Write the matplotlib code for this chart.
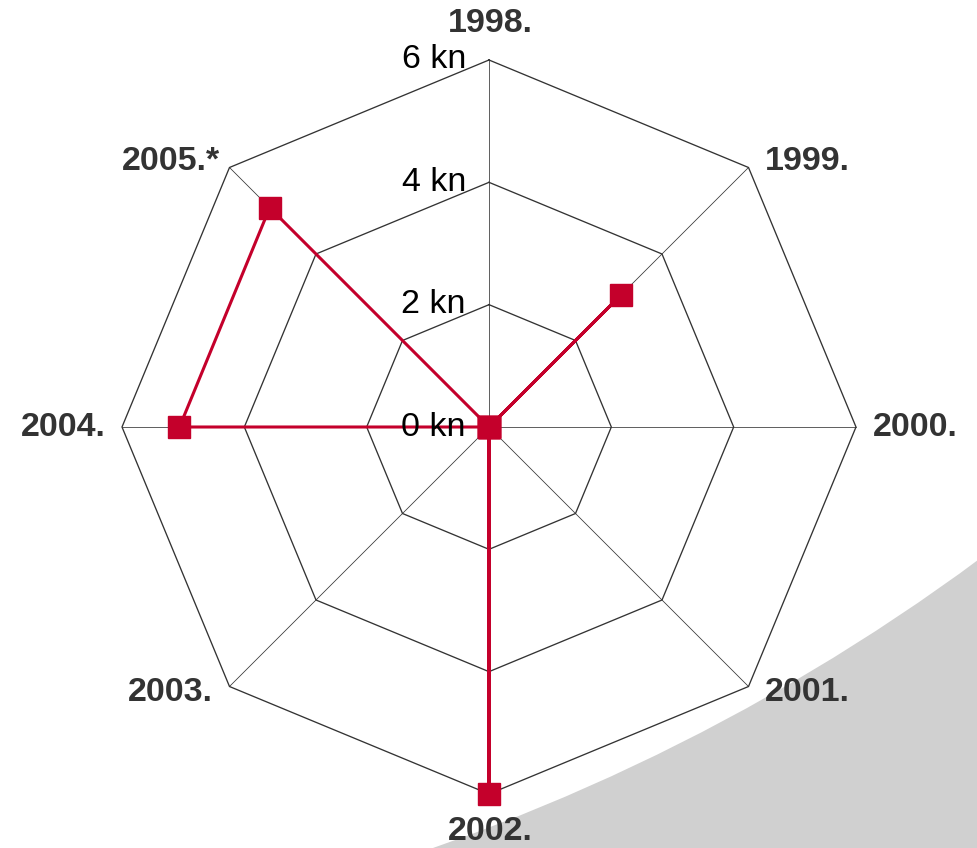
import numpy as np
import matplotlib
matplotlib.use("Agg")
import matplotlib.pyplot as plt
from matplotlib.patches import Ellipse

plt.rcParams['font.family'] = ['Liberation Sans', 'DejaVu Sans']

# data
years = ["1998.", "1999.", "2000.", "2001.", "2002.", "2003.", "2004.", "2005.*"]
values = [0, 3.06, 0, 0, 6, 0, 5.06, 5.07]
rings = [2, 4, 6]
tick_vals = [0, 2, 4, 6]
tick_labels = ["0 kn", "2 kn", "4 kn", "6 kn"]

RED = "#c4002b"
GRID = "#333333"

W, H = 978, 848
fig = plt.figure(figsize=(W / 100, H / 100), dpi=100)
fig.patch.set_facecolor("#d0d0d0")

# white background with the grey swoosh in the lower right
cx, cy, rad = -247.5, H + 1099.5, 2063
bg = Ellipse((cx / W, cy / H), 2 * rad / W, 2 * rad / H,
             transform=fig.transFigure, facecolor="white", edgecolor="none", zorder=0)
fig.add_artist(bg)

R = 367
ax = fig.add_axes([(489 - R) / W, (H - 427 - R) / H, 2 * R / W, 2 * R / H],
                  projection="polar")
ax.set_facecolor("none")
ax.set_theta_zero_location("N")
ax.set_theta_direction(-1)
ax.set_ylim(0, 6)
ax.set_xticks([])
ax.set_yticks([])
ax.grid(False)
ax.spines["polar"].set_visible(False)

n = len(years)
angles = np.arange(n) * 2 * np.pi / n
closed = np.append(angles, angles[0])

# octagon grid and spokes
for r in rings:
    ax.plot(closed, [r] * (n + 1), color=GRID, lw=0.95, zorder=1, clip_on=False)
for a in angles:
    ax.plot([a, a], [0, 6], color=GRID, lw=0.55, zorder=1, clip_on=False)

# data series
ax.plot(closed, values + values[:1], color=RED, lw=2.2, marker="s", ms=15.5,
        markeredgecolor=RED, zorder=3, clip_on=False)

# radial tick labels
for v, lab in zip(tick_vals, tick_labels):
    ax.annotate(lab, xy=(0, v), xytext=(-23, 0), textcoords="offset pixels",
                ha="right", va="center", fontsize=24.5, color="black", zorder=4,
                annotation_clip=False)

# category labels
for a, lab in zip(angles, years):
    s, c = np.sin(a), np.cos(a)
    if abs(s) < 1e-6:
        dx, dy = 1, 37 * np.sign(c)
    else:
        dx, dy = 59 * np.sign(s), (6 * np.sign(c) if abs(c) > 1e-6 else 0)
    ax.annotate(lab, xy=(a, 6), xytext=(dx, dy), textcoords="offset pixels",
                ha="center", va="center", fontsize=24.5, fontweight="bold",
                color="#333333", zorder=4, annotation_clip=False)

fig.savefig("out.png", dpi=100, facecolor=fig.get_facecolor())
